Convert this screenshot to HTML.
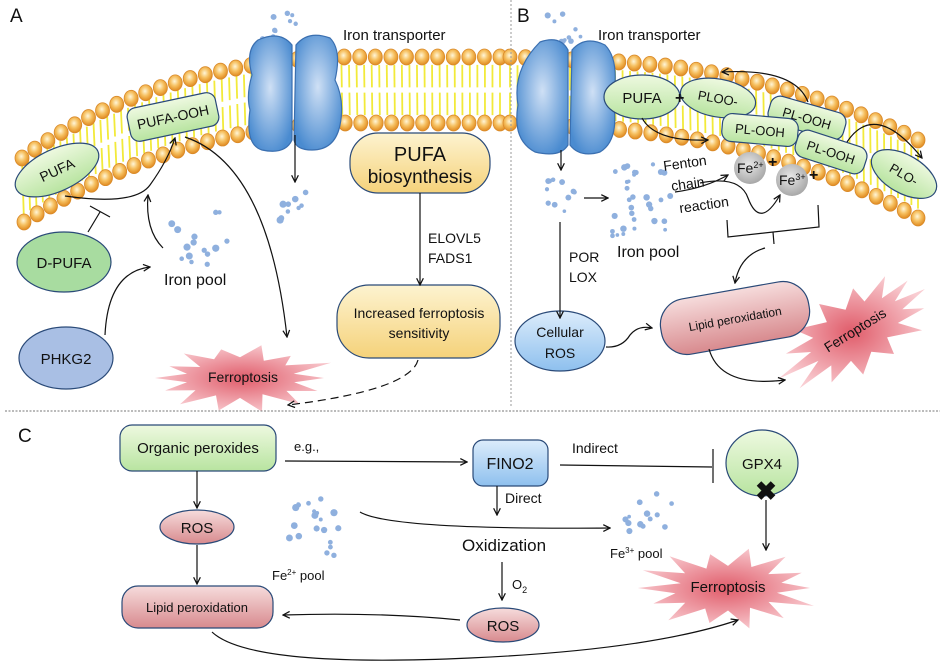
<!DOCTYPE html>
<html><head><meta charset="utf-8">
<style>
html,body{margin:0;padding:0;background:#fff;}
svg{display:block;}
text{font-family:"Liberation Sans",sans-serif;fill:#111;}
</style></head>
<body>
<svg id="s" width="948" height="665" viewBox="0 0 948 665" xmlns="http://www.w3.org/2000/svg">
<defs>
<marker id="ar" viewBox="0 0 10 10" refX="9" refY="5" markerWidth="7" markerHeight="7" orient="auto-start-reverse"><path d="M1 1 L9 5 L1 9" fill="none" stroke="#111" stroke-width="1.5"/></marker>
<radialGradient id="head" cx="45%" cy="40%" r="60%"><stop offset="0" stop-color="#fff6d8"/><stop offset="0.5" stop-color="#f6c060"/><stop offset="1" stop-color="#e08a20"/></radialGradient>
<radialGradient id="blue" cx="50%" cy="45%" r="60%"><stop offset="0" stop-color="#cfe0f5"/><stop offset="1" stop-color="#4a8bd0"/></radialGradient>
<linearGradient id="green" x1="0" y1="0" x2="0" y2="1"><stop offset="0" stop-color="#eef9e0"/><stop offset="1" stop-color="#b8e4a0"/></linearGradient>
<linearGradient id="yel" x1="0" y1="0" x2="0" y2="1"><stop offset="0" stop-color="#fdf3d0"/><stop offset="1" stop-color="#f5d27a"/></linearGradient>
<linearGradient id="pink" x1="0" y1="0" x2="0" y2="1"><stop offset="0" stop-color="#f6dcdc"/><stop offset="1" stop-color="#d88a8e"/></linearGradient>
<linearGradient id="lblue" x1="0" y1="0" x2="0" y2="1"><stop offset="0" stop-color="#dcecfb"/><stop offset="1" stop-color="#8ec0ee"/></linearGradient>
<radialGradient id="star" cx="50%" cy="50%" r="55%"><stop offset="0" stop-color="#e05c6a"/><stop offset="1" stop-color="#f9cdd2"/></radialGradient>
<radialGradient id="gray" cx="45%" cy="40%" r="60%"><stop offset="0" stop-color="#e8e8e8"/><stop offset="1" stop-color="#a8a8a8"/></radialGradient>
</defs>
<g id="mem"></g>
<g id="dots" fill="#8fb0de"></g>
<g id="stars"></g>

<!-- dividers -->
<line x1="511" y1="0" x2="511" y2="408" stroke="#999" stroke-dasharray="2,2"/>
<line x1="5" y1="411" x2="940" y2="411" stroke="#777" stroke-dasharray="2,1.5"/>

<!-- Panel A -->
<text x="10" y="22" font-size="19">A</text>
<g stroke="#3a6fb0" stroke-width="1.2" fill="url(#blue)">
<path d="M258 40 Q280 30 292 45 L292 140 Q285 155 262 150 Q245 145 250 110 Q246 95 252 75 Q245 50 258 40Z"/>
<path d="M296 45 Q308 30 330 38 Q342 50 335 80 Q345 100 340 125 Q335 150 312 150 Q296 150 294 140Z"/>
</g>
<text x="343" y="40" font-size="15">Iron transporter</text>
<line x1="295" y1="135" x2="295" y2="182" stroke="#111" stroke-width="1.2" marker-end="url(#ar)"/>

<g stroke="#2a4a78" stroke-width="1.2">
<rect x="128" y="100" width="90" height="34" rx="9" fill="url(#green)" transform="rotate(-12 173 117)"/>
<ellipse cx="57" cy="170" rx="45" ry="21" fill="url(#green)" transform="rotate(-25 57 170)"/>
<ellipse cx="64" cy="262" rx="47" ry="30" fill="#a8dca0"/>
<ellipse cx="66" cy="358" rx="47" ry="31" fill="#a9bfe4"/>
<rect x="350" y="133" width="140" height="60" rx="28" fill="url(#yel)"/>
<rect x="337" y="285" width="163" height="73" rx="32" fill="url(#yel)"/>
</g>
<text x="173" y="122" font-size="14" text-anchor="middle" transform="rotate(-12 173 117)">PUFA-OOH</text>
<text x="57" y="175" font-size="14" text-anchor="middle" transform="rotate(-25 57 170)">PUFA</text>
<text x="64" y="268" font-size="15" text-anchor="middle">D-PUFA</text>
<text x="66" y="364" font-size="15" text-anchor="middle">PHKG2</text>
<text x="420" y="161" font-size="20" text-anchor="middle">PUFA</text>
<text x="420" y="183" font-size="19" text-anchor="middle">biosynthesis</text>
<text x="419" y="318" font-size="14" text-anchor="middle">Increased ferroptosis</text>
<text x="419" y="338" font-size="14" text-anchor="middle">sensitivity</text>
<text x="428" y="243" font-size="14">ELOVL5</text>
<text x="428" y="263" font-size="14">FADS1</text>
<text x="164" y="285" font-size="16">Iron pool</text>
<text x="208" y="382" font-size="14">Ferroptosis</text>

<g fill="none" stroke="#111" stroke-width="1.2">
<path d="M65 196 Q135 206 150 185 Q168 160 175 138" marker-end="url(#ar)"/>
<path d="M88 232 L100 212 M90 206 L110 217"/>
<path d="M163 248 Q145 230 148 195" marker-end="url(#ar)"/>
<path d="M105 335 Q108 272 150 267" marker-end="url(#ar)"/>
<path d="M185 137 Q268 165 287 337" marker-end="url(#ar)"/>
<line x1="420" y1="193" x2="420" y2="285" marker-end="url(#ar)"/>
<path d="M418 360 Q410 390 288 405" stroke-dasharray="8,5" marker-end="url(#ar)"/>
</g>

<!-- Panel B -->
<text x="517" y="22" font-size="19">B</text>
<g stroke="#3a6fb0" stroke-width="1.2" fill="url(#blue)">
<path d="M540 42 Q560 35 568 50 L568 145 Q560 158 535 152 Q512 140 518 105 Q512 70 540 42Z"/>
<path d="M572 50 Q585 35 605 45 Q620 60 613 100 Q620 140 600 152 Q580 158 570 145Z"/>
</g>
<text x="598" y="40" font-size="15">Iron transporter</text>

<g stroke="#2a4a78" stroke-width="1.2" fill="url(#green)">
<ellipse cx="642" cy="97" rx="38" ry="22"/>
<ellipse cx="718" cy="98" rx="38" ry="19" transform="rotate(10 718 98)"/>
<rect x="768" y="104" width="78" height="28" rx="10" transform="rotate(16 807 118)"/>
<rect x="722" y="116" width="76" height="28" rx="10" transform="rotate(5 760 130)"/>
<rect x="795" y="138" width="72" height="28" rx="10" transform="rotate(18 831 152)"/>
<ellipse cx="904" cy="174" rx="36" ry="19" transform="rotate(30 904 174)"/>
</g>
<text x="642" y="103" font-size="15" text-anchor="middle">PUFA</text>
<text x="718" y="103" font-size="13" text-anchor="middle" transform="rotate(10 718 98)">PLOO-</text>
<text x="807" y="123" font-size="13" text-anchor="middle" transform="rotate(16 807 118)">PL-OOH</text>
<text x="760" y="135" font-size="13" text-anchor="middle" transform="rotate(5 760 130)">PL-OOH</text>
<text x="831" y="157" font-size="13" text-anchor="middle" transform="rotate(18 831 152)">PL-OOH</text>
<text x="904" y="179" font-size="13" text-anchor="middle" transform="rotate(30 904 174)">PLO-</text>
<g fill="url(#gray)"><circle cx="750" cy="168" r="16"/><circle cx="792" cy="180" r="16"/></g>
<text x="737" y="173" font-size="14">Fe<tspan font-size="9" dy="-5">2+</tspan></text>
<text x="779" y="185" font-size="14">Fe<tspan font-size="9" dy="-5">3+</tspan></text>
<g fill="#1a2a50" font-weight="bold" font-size="16"><text x="675" y="103">+</text><text x="768" y="167">+</text><text x="809" y="180">+</text></g>
<g font-size="14" transform="rotate(-8 700 190)"><text x="667" y="166">Fenton</text><text x="672" y="187">chain</text><text x="677" y="210">reaction</text></g>
<text x="617" y="257" font-size="16">Iron pool</text>
<text x="569" y="262" font-size="14">POR</text>
<text x="569" y="282" font-size="14">LOX</text>
<g stroke="#2a4a78" stroke-width="1.2">
<ellipse cx="560" cy="341" rx="45" ry="30" fill="url(#lblue)"/>
<rect x="660" y="290" width="150" height="56" rx="26" fill="url(#pink)" transform="rotate(-10 735 318)"/>
</g>
<text x="560" y="337" font-size="14" text-anchor="middle">Cellular</text>
<text x="560" y="358" font-size="14" text-anchor="middle">ROS</text>
<text x="735" y="323" font-size="12" text-anchor="middle" transform="rotate(-10 735 318)">Lipid peroxidation</text>
<text x="855" y="335" font-size="14" text-anchor="middle" transform="rotate(-32 855 330)">Ferroptosis</text>
<g fill="none" stroke="#111" stroke-width="1.2">
<line x1="561" y1="150" x2="561" y2="170" marker-end="url(#ar)"/>
<line x1="584" y1="198" x2="608" y2="198" marker-end="url(#ar)"/>
<line x1="560" y1="222" x2="560" y2="318" marker-end="url(#ar)"/>
<path d="M606 347 Q622 348 630 335 Q638 325 652 328" marker-end="url(#ar)"/>
<path d="M642 118 Q655 142 708 140" marker-end="url(#ar)"/>
<path d="M808 102 Q795 68 722 72" marker-end="url(#ar)"/>
<path d="M847 142 Q875 100 922 158" marker-end="url(#ar)"/>
<path d="M675 192 Q705 188 728 175" marker-end="url(#ar)"/>
<path d="M700 183 Q740 175 748 198 Q760 230 780 195" marker-end="url(#ar)"/>
<path d="M727 220 L728 237 L819 227 L818 205 M773 232 L774 244"/>
<path d="M765 248 Q740 255 735 283" marker-end="url(#ar)"/>
<path d="M709 349 Q720 388 785 380" marker-end="url(#ar)"/>
</g>

<!-- Panel C -->
<text x="18" y="442" font-size="19">C</text>
<g stroke="#2a4a78" stroke-width="1.2">
<rect x="120" y="425" width="156" height="46" rx="12" fill="url(#green)"/>
<rect x="473" y="440" width="75" height="46" rx="10" fill="url(#lblue)"/>
<ellipse cx="762" cy="463" rx="36" ry="33" fill="url(#green)"/>
<ellipse cx="197" cy="527" rx="37" ry="17" fill="url(#pink)"/>
<rect x="122" y="586" width="151" height="42" rx="16" fill="url(#pink)"/>
<ellipse cx="503" cy="625" rx="36" ry="17" fill="url(#pink)"/>
</g>
<text x="198" y="453" font-size="15" text-anchor="middle">Organic peroxides</text>
<text x="510" y="469" font-size="16" text-anchor="middle">FINO2</text>
<text x="762" y="469" font-size="15" text-anchor="middle">GPX4</text>
<text x="197" y="533" font-size="15" text-anchor="middle">ROS</text>
<text x="197" y="612" font-size="13" text-anchor="middle">Lipid peroxidation</text>
<text x="503" y="631" font-size="15" text-anchor="middle">ROS</text>
<text x="294" y="451" font-size="13">e.g.,</text>
<text x="572" y="453" font-size="14">Indirect</text>
<text x="505" y="503" font-size="14">Direct</text>
<text x="462" y="551" font-size="17">Oxidization</text>
<text x="512" y="589" font-size="13">O<tspan font-size="9" dy="4">2</tspan></text>
<text x="272" y="580" font-size="13">Fe<tspan font-size="8" dy="-5">2+</tspan><tspan dy="5">   pool</tspan></text>
<text x="610" y="558" font-size="13">Fe<tspan font-size="8" dy="-5">3+</tspan><tspan dy="5">   pool</tspan></text>
<text x="728" y="592" font-size="15" text-anchor="middle">Ferroptosis</text>
<g fill="none" stroke="#111" stroke-width="1.2">
<line x1="285" y1="461" x2="467" y2="462" marker-end="url(#ar)"/>
<line x1="560" y1="465" x2="712" y2="467"/>
<line x1="713" y1="449" x2="713" y2="483"/>
<line x1="766" y1="500" x2="766" y2="550" marker-end="url(#ar)"/>
<line x1="197" y1="471" x2="197" y2="508" marker-end="url(#ar)"/>
<line x1="197" y1="545" x2="197" y2="584" marker-end="url(#ar)"/>
<line x1="497" y1="486" x2="497" y2="515" marker-end="url(#ar)"/>
<path d="M360 512 Q390 530 610 528" marker-end="url(#ar)"/>
<line x1="502" y1="562" x2="502" y2="600" marker-end="url(#ar)"/>
<path d="M460 620 Q380 612 283 615" marker-end="url(#ar)"/>
<path d="M212 632 Q250 668 470 658 Q650 650 738 620" marker-end="url(#ar)"/>
</g>
<text x="766" y="500" font-size="26" font-weight="bold" text-anchor="middle" fill="#111">✖</text>
</svg>
<script>
(function(){
var NS="http://www.w3.org/2000/svg";
var mem=document.getElementById("mem");
function el(t,a,p){var e=document.createElementNS(NS,t);for(var k in a)e.setAttribute(k,a[k]);(p||mem).appendChild(e);return e;}
function membrane(outD,inD){
 var po=el("path",{d:outD,fill:"none"}),pi=el("path",{d:inD,fill:"none"});
 var Lo=po.getTotalLength(),Li=pi.getTotalLength();
 var n=Math.round(Lo/7.5);
 for(var i=0;i<=n;i++){var t=i/n;var a=po.getPointAtLength(t*Lo),b=pi.getPointAtLength(t*Li);
  var dx=b.x-a.x,dy=b.y-a.y;
  el("line",{x1:a.x+dx*0.12,y1:a.y+dy*0.12,x2:a.x+dx*0.46,y2:a.y+dy*0.46,stroke:"#f2ea3a","stroke-width":1.8});
  el("line",{x1:a.x+dx*0.54,y1:a.y+dy*0.54,x2:a.x+dx*0.88,y2:a.y+dy*0.88,stroke:"#f2ea3a","stroke-width":1.8});}
 var m=Math.round(Lo/15.5);
 for(var i=0;i<=m;i++){var t=i/m;var a=po.getPointAtLength(t*Lo),b=pi.getPointAtLength(t*Li);
  el("ellipse",{cx:a.x,cy:a.y,rx:7,ry:8,fill:"url(#head)",stroke:"#d98a2a","stroke-width":0.8});
  el("ellipse",{cx:b.x,cy:b.y,rx:7,ry:8,fill:"url(#head)",stroke:"#d98a2a","stroke-width":0.8});}
}
membrane("M22 158 Q150 66 330 57 L500 57","M24 222 Q165 132 330 123 L500 123");
membrane("M510 57 L620 62 Q780 72 918 140","M510 123 L600 128 Q780 140 918 218");
var dots=document.getElementById("dots");
function cloud(x0,y0,w,h,n,r,seed){var s=seed;function rnd(){s=(s*9301+49297)%233280;return s/233280;}
 for(var i=0;i<n;i++)el("circle",{cx:x0+rnd()*w,cy:y0+rnd()*h,r:r*(0.6+rnd()*0.5)},dots);}
cloud(262,10,35,32,10,2.8,3);cloud(278,190,42,32,9,3.3,7);cloud(165,210,65,60,15,3.5,11);
cloud(547,10,35,35,10,2.8,5);cloud(545,178,32,34,11,2.8,13);cloud(610,158,62,78,32,3,17);
cloud(285,488,55,68,20,3.3,19);cloud(623,488,50,46,13,3,23);
var st=document.getElementById("stars");
function star(cx,cy,rx,ry,n,rot,seed){var s=seed;function rnd(){s=(s*9301+49297)%233280;return s/233280;}
 var p=[];for(var i=0;i<2*n;i++){var a=i*Math.PI/n;var f=i%2?0.55+rnd()*0.1:0.85+rnd()*0.25;
 var x=Math.cos(a)*rx*f,y=Math.sin(a)*ry*f;var c=Math.cos(rot),sn=Math.sin(rot);
 p.push((cx+x*c-y*sn).toFixed(1)+","+(cy+x*sn+y*c).toFixed(1));}
 el("polygon",{points:p.join(" "),fill:"url(#star)"},st);}
star(240,378,92,32,14,0,1);star(858,330,85,42,14,-0.55,2);star(728,588,88,38,14,0,3);
})();
</script>
</body></html>
